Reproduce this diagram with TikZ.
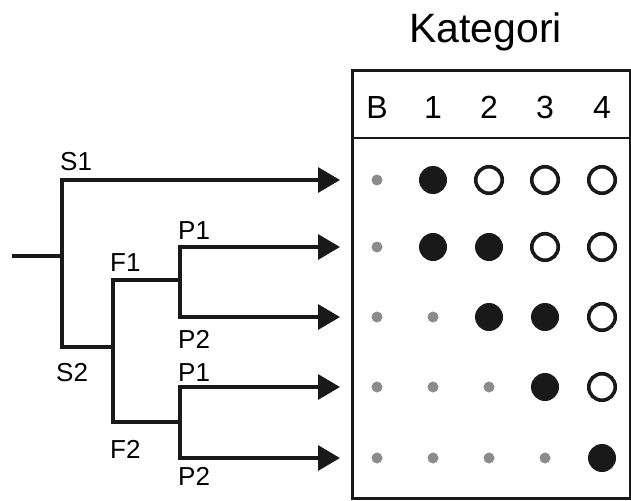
\documentclass[tikz,border=0pt]{standalone}
\usepackage{fontspec}
\setmainfont{Liberation Sans}
\usetikzlibrary{arrows.meta}
\begin{document}
\begin{tikzpicture}[x=1pt,y=-1pt,
  line/.style={line width=3.3pt,line cap=rect,draw=black!90},
  arr/.style={line width=3.3pt,line cap=rect,draw=black!90,-{Triangle[length=22pt,width=25pt]}},
  lbl/.style={anchor=base west,inner sep=0pt,font=\fontsize{26}{26}\selectfont},
  hdr/.style={anchor=base,inner sep=0pt,font=\fontsize{32}{32}\selectfont},
  full/.style={circle,fill=black!90,minimum size=28pt,inner sep=0pt},
  open/.style={circle,draw=black!90,line width=3.6pt,minimum size=26.5pt,inner sep=0pt},
  small/.style={circle,fill=black!45,minimum size=11pt,inner sep=0pt}]
\useasboundingbox (0,0) rectangle (631,500);

% title
\node[anchor=base,inner sep=0pt,font=\fontsize{41}{41}\selectfont] (title) at (485.5,43) {Kategori};

% table box
\node[draw=black!90,line width=2.6pt,minimum width=278pt,minimum height=428pt,inner sep=0pt,anchor=north west] (box) at (351,69) {};
\coordinate (hl) at (351,138);
\coordinate (hr) at (629,138);
\draw[line width=2.6pt,draw=black!90] (hl) -- (hr);

% header
\node[hdr] (hB) at (377,118) {B};
\node[hdr] (h1) at (433,118) {1};
\node[hdr] (h2) at (489,118) {2};
\node[hdr] (h3) at (545,118) {3};
\node[hdr] (h4) at (602,118) {4};

% dots
\foreach \y/\r/\a/\b/\c/\d/\e in {180/1/small/full/open/open/open,
                                   247/2/small/full/full/open/open,
                                   317/3/small/small/full/full/open,
                                   387/4/small/small/small/full/open,
                                   458/5/small/small/small/small/full}{
  \node[\a] (d\r B) at (377,\y) {};
  \node[\b] (d\r 1) at (433,\y) {};
  \node[\c] (d\r 2) at (489,\y) {};
  \node[\d] (d\r 3) at (545,\y) {};
  \node[\e] (d\r 4) at (602,\y) {};
}

% tree coordinates
\coordinate (root) at (13.5,256);
\coordinate (s) at (62,256);
\coordinate (s1) at (62,180);
\coordinate (s2) at (62,347);
\coordinate (f) at (113,347);
\coordinate (f1) at (113,280);
\coordinate (f2) at (113,422);
\coordinate (p1) at (180,280);
\coordinate (p2) at (180,422);
\coordinate (p11) at (180,247);
\coordinate (p12) at (180,317);
\coordinate (p21) at (180,387);
\coordinate (p22) at (180,458);
\coordinate (t1) at (340,180);
\coordinate (t2) at (340,247);
\coordinate (t3) at (340,317);
\coordinate (t4) at (340,387);
\coordinate (t5) at (340,458);

% tree
\draw[line] (root) -- (s);
\draw[arr] (f) -- (s2) -- (s1) -- (t1);
\draw[line] (p1) -- (f1) -- (f2) -- (p2);
\draw[arr] (p11) -- (t2);
\draw[arr] (p11) -- (p12) -- (t3);
\draw[arr] (p21) -- (t4);
\draw[arr] (p21) -- (p22) -- (t5);

% labels
\node[lbl] (lS1) at (60,170) {S1};
\node[lbl] (lS2) at (56,381) {S2};
\node[lbl] (lF1) at (110,271) {F1};
\node[lbl] (lF2) at (110,458) {F2};
\node[lbl] (lP1a) at (178,239) {P1};
\node[lbl] (lP2a) at (178,348) {P2};
\node[lbl] (lP1b) at (178,381) {P1};
\node[lbl] (lP2b) at (178,485) {P2};
\end{tikzpicture}
\end{document}
